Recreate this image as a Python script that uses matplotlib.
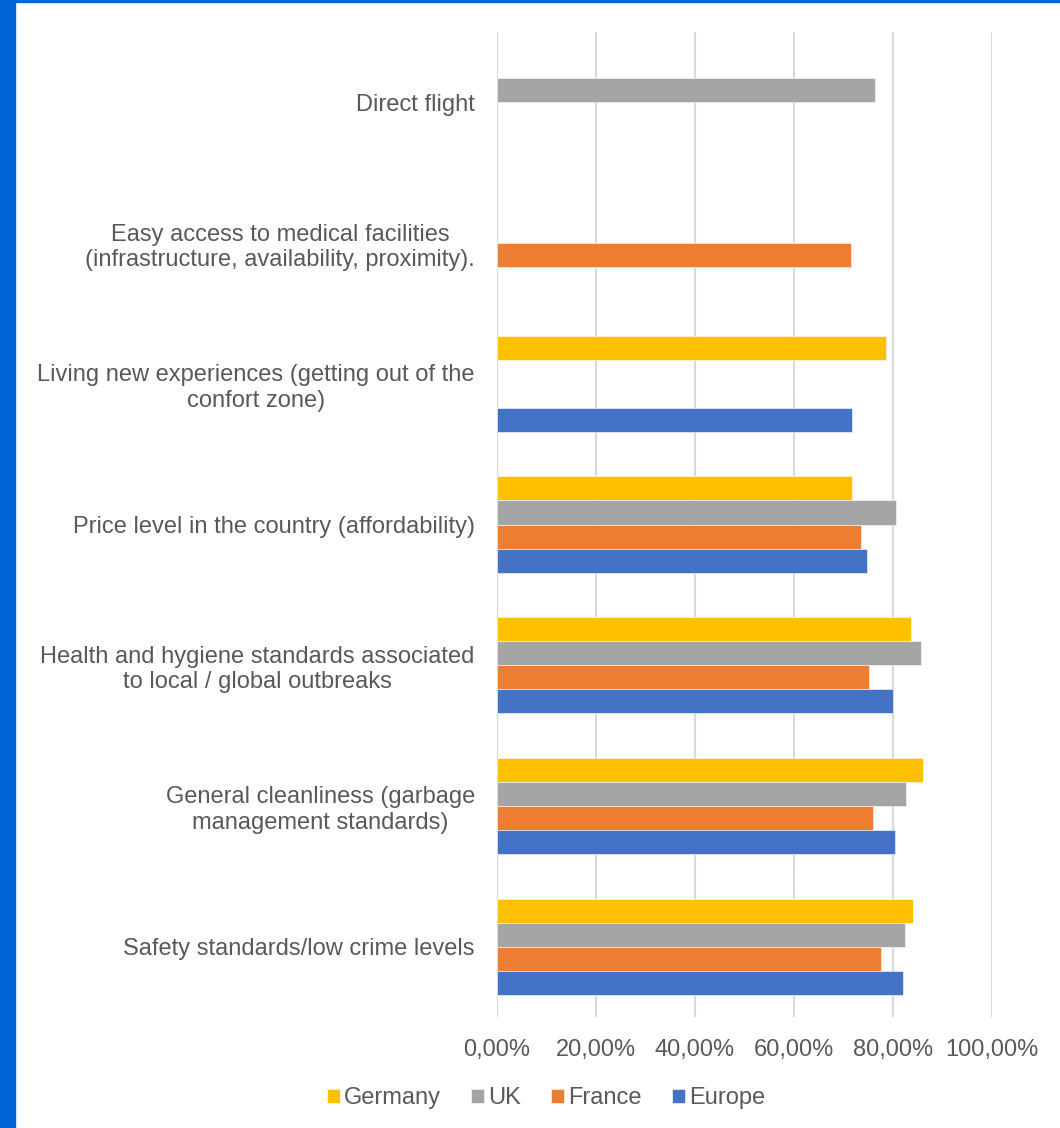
import matplotlib.pyplot as plt
import numpy as np
from matplotlib.patches import Rectangle
from matplotlib.ticker import FuncFormatter

plt.rcParams['font.family'] = ['Liberation Sans', 'DejaVu Sans']

# categories bottom to top
categories = [
    "Safety standards/low crime levels",
    "General cleanliness (garbage\nmanagement standards)",
    "Health and hygiene standards associated\nto local / global outbreaks",
    "Price level in the country (affordability)",
    "Living new experiences (getting out of the\nconfort zone)",
    "Easy access to medical facilities\n(infrastructure, availability, proximity).",
    "Direct flight",
]
nan = np.nan
germany = [0.841, 0.860, 0.836, 0.718, 0.786, nan, nan]
uk = [0.824, 0.826, 0.856, 0.806, nan, nan, 0.764]
france = [0.775, 0.760, 0.751, 0.735, nan, 0.716, nan]
europe = [0.820, 0.805, 0.799, 0.748, 0.718, nan, nan]

series = ["Germany", "UK", "France", "Europe"]
colours = ["#FFC000", "#A5A5A5", "#ED7D31", "#4472C4"]
values = [germany, uk, france, europe]

fig = plt.figure(figsize=(10.6, 11.28), dpi=100)
ax = fig.add_axes([497 / 1060, 1 - 1017 / 1128, 495 / 1060, 985 / 1128])

y = np.arange(len(categories))
h = 0.171
offsets = [1.5 * h, 0.5 * h, -0.5 * h, -1.5 * h]
for name, col, vals, off in zip(series, colours, values, offsets):
    ax.barh(y + off, vals, height=h, color=col, label=name, zorder=3,
            edgecolor='white', linewidth=0.4)

ax.set_xlim(0, 1.0)
ax.set_ylim(-0.5, len(categories) - 0.5)
ax.set_xticks(np.arange(0, 1.01, 0.2))
ax.xaxis.set_major_formatter(FuncFormatter(lambda v, p: f"{v * 100:.2f}%".replace(".", ",")))
ax.set_yticks(y)
ax.set_yticklabels(categories, multialignment='center')
ax.grid(axis='x', color='#d9d9d9', linewidth=1.5, zorder=0)
for s in ax.spines.values():
    s.set_visible(False)
ax.tick_params(axis='both', length=0, labelcolor='#595959', labelsize=17)
ax.tick_params(axis='y', pad=16)
ax.tick_params(axis='x', pad=16)

handles, labels = ax.get_legend_handles_labels()
fig.legend(handles, labels, loc='center', bbox_to_anchor=(546 / 1060, 1 - 1098 / 1128),
           ncol=4, frameon=False, fontsize=17, labelcolor='#595959',
           handlelength=0.55, handleheight=0.55, handletextpad=0.15, columnspacing=1.3)

# blue frame on the left and top edges
fig.patches.append(Rectangle((0, 0), 15 / 1060, 1, transform=fig.transFigure,
                             color='#0063D6', zorder=10))
fig.patches.append(Rectangle((0, 1 - 2 / 1128), 1, 2 / 1128, transform=fig.transFigure,
                             color='#0063D6', zorder=10))

fig.savefig("out.png", dpi=100)
